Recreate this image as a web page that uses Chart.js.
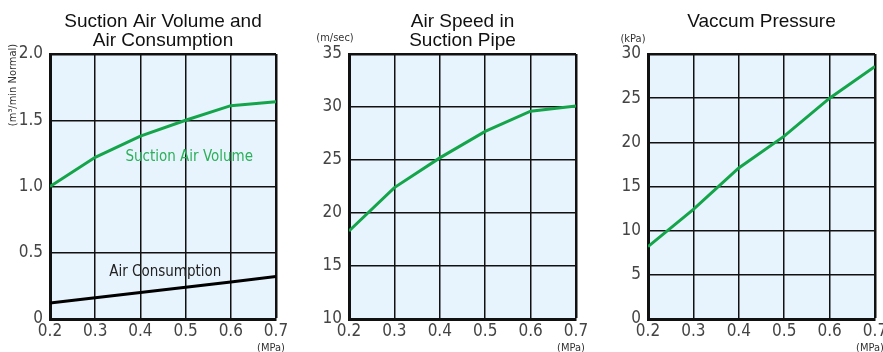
<!DOCTYPE html>
<html>
<head>
<meta charset="utf-8">
<script src="https://cdn.jsdelivr.net/npm/chart.js@4.4.1/dist/chart.umd.min.js"></script>
<style>
  html, body { margin: 0; padding: 0; background: #fff; }
  #wrap { position: relative; width: 883px; height: 352px; overflow: hidden; }
  canvas { position: absolute; top: 0; }
</style>
</head>
<body>
<div id="wrap">
  <canvas id="c1" width="295" height="352" style="left:0"></canvas>
  <canvas id="c2" width="295" height="352" style="left:295px"></canvas>
  <canvas id="c3" width="293" height="352" style="left:590px"></canvas>
</div>
<script>
// data
const pressure = [0.2, 0.3, 0.4, 0.5, 0.6, 0.7];           // MPa
const suctionAirVolume = [1.0, 1.22, 1.38, 1.5, 1.61, 1.64]; // m3/min Normal
const airConsumption = [0.12, 0.16, 0.2, 0.24, 0.28, 0.32];
const airSpeed = [18.3, 22.4, 25.2, 27.7, 29.6, 30.1];       // m/sec
const vacuumPressure = [8.2, 12.4, 17.1, 20.7, 25.0, 28.6];  // kPa

const yTicks1 = [0, 0.5, 1.0, 1.5, 2.0];
const yTicks2 = [10, 15, 20, 25, 30, 35];
const yTicks3 = [0, 5, 10, 15, 20, 25, 30];

const GREEN = '#14a54a';
const NARROW = '"Liberation Sans Narrow", "DejaVu Sans Condensed", "Liberation Sans", sans-serif';
const TITLE_FONT = '"Liberation Sans", Arial, sans-serif';

function pts(xs, ys) {
    return xs.map((x, i) => ({ x: x, y: ys[i] }));
}

// titles, unit labels and series labels
const extrasPlugin = {
    id: 'extras',
    afterDraw(chart, args, opts) {
        const ctx = chart.ctx;
        const area = chart.chartArea;
        const cx = (area.left + area.right) / 2;
        ctx.save();
        ctx.fillStyle = '#111';
        ctx.font = '19px ' + TITLE_FONT;
        ctx.textAlign = 'center';
        ctx.textBaseline = 'middle';
        (opts.titles || []).forEach((t, i) => {
            ctx.fillText(t, cx, 22 + i * 19);
        });

        // (MPa) under the last x tick
        ctx.font = '11px ' + NARROW;
        ctx.fillStyle = '#333';
        ctx.fillText('(MPa)', area.right - 5, 348);

        if (opts.unit) {
            ctx.font = '11px ' + NARROW;
            if (opts.unit.rotate) {
                ctx.translate(opts.unit.x, opts.unit.y);
                ctx.rotate(-Math.PI / 2);
                ctx.fillText(opts.unit.text, 0, 0);
                ctx.setTransform(1, 0, 0, 1, 0, 0);
            } else {
                ctx.fillText(opts.unit.text, opts.unit.x, opts.unit.y);
            }
        }

        const xs = chart.scales.x, ys = chart.scales.y;
        (opts.notes || []).forEach(n => {
            ctx.font = '15px ' + NARROW;
            ctx.fillStyle = n.color;
            ctx.fillText(n.text, xs.getPixelForValue(n.x), ys.getPixelForValue(n.y));
        });
        ctx.restore();
    }
};

// light blue plot background
const bgPlugin = {
    id: 'plotBg',
    beforeDraw(chart) {
        const a = chart.chartArea;
        chart.ctx.save();
        chart.ctx.fillStyle = '#e8f4fd';
        chart.ctx.fillRect(a.left, a.top, a.right - a.left, a.bottom - a.top);
        chart.ctx.restore();
    }
};

function makeChart(id, cfg) {
    const yt = cfg.yTicks;
    return new Chart(document.getElementById(id), {
        type: 'line',
        data: { datasets: cfg.datasets },
        plugins: [bgPlugin, extrasPlugin],
        options: {
            responsive: false,
            animation: false,
            layout: { padding: { top: 54, right: cfg.padRight, left: 0, bottom: 0 } },
            plugins: {
                legend: { display: false },
                tooltip: { enabled: false },
                extras: { titles: cfg.titles, unit: cfg.unit, notes: cfg.notes }
            },
            elements: { point: { radius: 0 }, line: { tension: 0, borderWidth: 3 } },
            scales: {
                x: {
                    type: 'linear',
                    min: pressure[0],
                    max: pressure[pressure.length - 1],
                    afterBuildTicks: s => { s.ticks = pressure.map(v => ({ value: v })); },
                    afterFit: s => { s.height = 33; s.paddingLeft = 0; s.paddingRight = 0; },
                    grid: {
                        color: '#111',
                        lineWidth: c => (c.index === pressure.length - 1 ? 2.5 : 1.5),
                        drawTicks: false
                    },
                    border: { color: '#111', width: 3 },
                    ticks: {
                        padding: 2,
                        color: '#444',
                        font: { family: NARROW, size: 17 },
                        callback: v => Number(v).toFixed(1)
                    }
                },
                y: {
                    min: yt[0],
                    max: yt[yt.length - 1],
                    afterBuildTicks: s => { s.ticks = yt.map(v => ({ value: v })); },
                    afterFit: s => { s.width = cfg.yWidth; },
                    grid: {
                        color: '#111',
                        lineWidth: c => (c.index === yt.length - 1 ? 2.5 : 1.5),
                        drawTicks: false
                    },
                    border: { color: '#111', width: 3 },
                    ticks: {
                        padding: 7,
                        color: '#444',
                        font: { family: NARROW, size: 17 },
                        callback: cfg.yFormat
                    }
                }
            }
        }
    });
}

makeChart('c1', {
    yTicks: yTicks1,
    yWidth: 50,
    padRight: 19,
    yFormat: v => (v === 0 ? '0' : Number(v).toFixed(1)),
    titles: ['Suction Air Volume and', 'Air Consumption'],
    unit: { text: '(m\u00b3/min Normal)', x: 13, y: 85, rotate: true },
    notes: [
        { text: 'Suction Air Volume', x: 0.508, y: 1.22, color: '#2bb05a' },
        { text: 'Air Consumption', x: 0.455, y: 0.355, color: '#222' }
    ],
    datasets: [
        { data: pts(pressure, suctionAirVolume), borderColor: GREEN },
        { data: pts(pressure, airConsumption), borderColor: '#000' }
    ]
});

makeChart('c2', {
    yTicks: yTicks2,
    yWidth: 54,
    padRight: 14,
    yFormat: v => String(v),
    titles: ['Air Speed in', 'Suction Pipe'],
    unit: { text: '(m/sec)', x: 40, y: 38 },
    notes: [],
    datasets: [
        { data: pts(pressure, airSpeed), borderColor: GREEN }
    ]
});

makeChart('c3', {
    yTicks: yTicks3,
    yWidth: 58,
    padRight: 8,
    yFormat: v => String(v),
    titles: ['Vaccum Pressure'],
    unit: { text: '(kPa)', x: 43, y: 39 },
    notes: [],
    datasets: [
        { data: pts(pressure, vacuumPressure), borderColor: GREEN }
    ]
});
</script>
</body>
</html>
